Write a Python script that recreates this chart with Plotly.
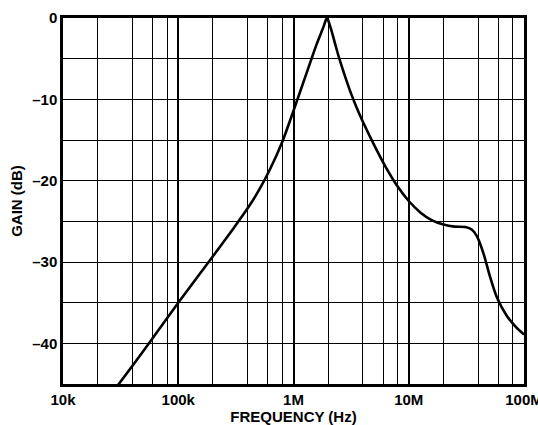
import plotly.graph_objects as go

# Data
freq_hz = [28e3, 50e3, 100e3, 200e3, 300e3, 400e3, 500e3, 630e3, 795e3,
           1.0e6, 1.26e6, 1.41e6, 1.58e6, 1.74e6, 1.84e6, 1.9e6, 1.95e6,
           2.0e6, 2.07e6, 2.19e6, 2.34e6, 2.51e6, 2.82e6, 3.16e6, 3.55e6,
           3.98e6, 5.0e6, 6.3e6, 7.9e6, 10e6, 12.6e6, 15.8e6, 20e6, 25e6,
           31e6, 35.2e6, 38.9e6, 44.4e6, 50.7e6, 58e6, 70.8e6, 86.5e6, 100e6]
gain_db = [-45.7, -40.9, -35.0, -29.3, -25.9, -23.4, -21.2, -18.5, -15.3,
           -11.4, -7.3, -5.3, -3.3, -1.8, -0.9, -0.3, 0.0,
           -0.3, -0.9, -2.1, -3.6, -5.1, -7.3, -9.3, -11.1,
           -12.7, -15.6, -18.3, -20.6, -22.5, -23.9, -24.85, -25.4, -25.65,
           -25.7, -26.0, -26.8, -28.9, -31.8, -34.3, -36.6, -38.1, -38.9]

x_major = [1e4, 1e5, 1e6, 1e7, 1e8]
x_major_text = ["10k", "100k", "1M", "10M", "100M"]
x_minor = [m * d for d in (1e4, 1e5, 1e6, 1e7) for m in (2, 4, 6, 8)]
y_ticks = [0, -5, -10, -15, -20, -25, -30, -35, -40, -45]
y_text = ["0", "", "–10", "", "–20", "", "–30", "", "–40", ""]

font_family = "Liberation Sans, Arial, Helvetica, sans-serif"

fig = go.Figure()
fig.add_trace(go.Scatter(
    x=freq_hz, y=gain_db, mode="lines",
    line=dict(color="black", width=2.6, shape="spline", smoothing=0.8),
    showlegend=False, hoverinfo="skip",
))

fig.update_layout(
    width=538, height=425,
    margin=dict(l=63, r=14, t=18, b=41),
    paper_bgcolor="white", plot_bgcolor="white",
    font=dict(family=font_family, size=15, color="black", weight="bold"),
    xaxis=dict(
        type="log", range=[4, 8],
        tickmode="array", tickvals=x_major, ticktext=x_major_text,
        showgrid=True, gridcolor="black", gridwidth=2,
        minor=dict(tickmode="array", tickvals=x_minor, showgrid=True,
                   gridcolor="black", gridwidth=1.4, ticks=""),
        showline=True, linecolor="black", linewidth=2.5, mirror=True,
        ticks="", zeroline=False,
        tickfont=dict(family=font_family, size=15, weight="bold"),
        ticklabeloverflow="allow",
        title=dict(text="FREQUENCY (Hz)", standoff=12,
                   font=dict(family=font_family, size=15, weight="bold")),
        automargin=False,
    ),
    yaxis=dict(
        range=[-45, 0],
        tickmode="array", tickvals=y_ticks, ticktext=y_text,
        showgrid=True, gridcolor="black", gridwidth=1.4,
        showline=True, linecolor="black", linewidth=2.5, mirror=True,
        ticks="", zeroline=False,
        tickfont=dict(family=font_family, size=15, weight="bold"),
        title=dict(text="GAIN (dB)", standoff=6,
                   font=dict(family=font_family, size=15, weight="bold")),
        automargin=False,
    ),
)

fig.write_html(
    "out.html",
    config={"displayModeBar": False},
    post_script="document.body.style.margin='0';document.body.style.overflow='hidden';",
)
